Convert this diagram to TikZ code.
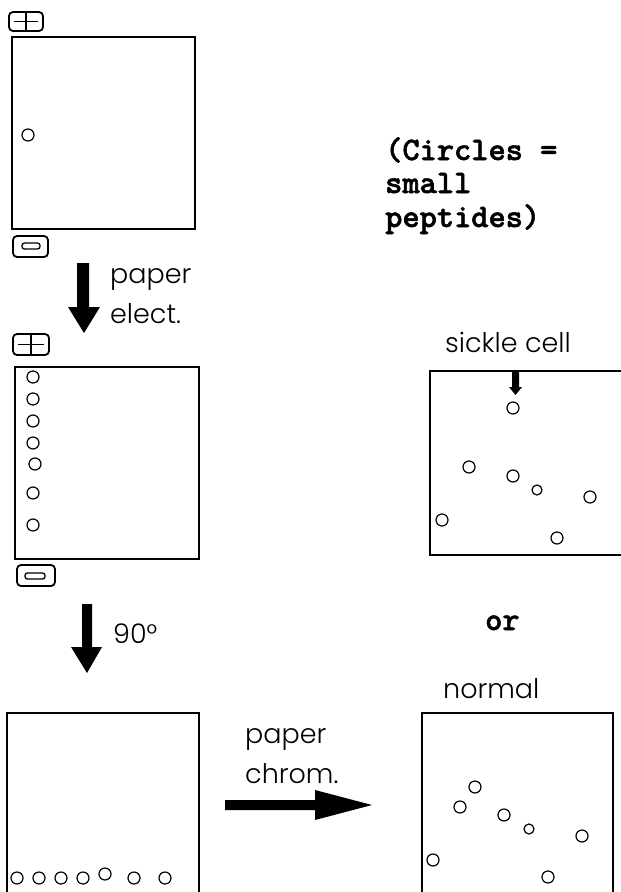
\documentclass[tikz,border=0pt]{standalone}
\usepackage{fontspec}
\newfontfamily\labelsans{Poppins Light}
\newfontfamily\notemono{lmmonolt10-bold}[Extension=.otf, FakeBold=1.6]
\tikzset{
  sheet/.style={line width=2pt},
  spot/.style={line width=1.2pt},
  pole/.style={line width=1.8pt, rounded corners=4pt},
  poleinner/.style={line width=1.3pt, rounded corners=2.5pt},
  bigarrow/.style={fill=black},
  lbl/.style={font=\labelsans\fontsize{27}{30}\selectfont, inner sep=0pt, anchor=base west},
  note/.style={font=\notemono\fontsize{32.8}{36}\selectfont, inner sep=0pt, anchor=base west},
}
\begin{document}
\begin{tikzpicture}[x=1pt,y=-1pt]
\fill[white] (0,0) rectangle (621,892);
\useasboundingbox (0,0) rectangle (621,892);

% --- first sheet: sample applied ---
\draw[sheet] (12,37) rectangle (195,229);
\draw[spot] (28,135) circle[radius=6];
\draw[pole] (9,12) rectangle (43,31);
\draw[line width=1.8pt] (14,21.5) -- (38,21.5) (26,12) -- (26,31);
\draw[pole] (13,236) rectangle (48,257);
\draw[poleinner] (22,243) rectangle (40,249);

% electrophoresis step
\fill[bigarrow] (77,263) -- (89,263) -- (89,307) -- (100,307) -- (84,333) -- (68,307) -- (77,307) -- cycle;
\node[lbl] (elA) at (110,283) {paper};
\node[lbl] (elB) at (110,323) {elect.};

% --- second sheet: separated along one edge ---
\draw[sheet] (15,367) rectangle (199,559);
\draw[pole] (13,334) rectangle (49,355);
\draw[line width=1.8pt] (18,344.5) -- (44,344.5) (31,334) -- (31,355);
\draw[pole] (17,565) rectangle (55,586);
\draw[poleinner] (25,573) rectangle (45,579);
\foreach \y in {377,399,421,443,493,525}
  \draw[spot] (33,\y) circle[radius=6];
\draw[spot] (35,464) circle[radius=6];

% rotation step
\fill[bigarrow] (82,604) -- (92,604) -- (92,647) -- (102,647) -- (87,673) -- (71,647) -- (82,647) -- cycle;
\node[lbl] (rot) at (113,643) {90°};

% --- third sheet: spots along the bottom ---
\draw[sheet] (7,896) -- (7,713) -- (199,713) -- (199,896);
\foreach \x in {17,39,61,83,134,165}
  \draw[spot] (\x,878) circle[radius=6];
\draw[spot] (105,874) circle[radius=6];

% chromatography step
\fill[bigarrow] (225,800) -- (315,800) -- (315,790) -- (372,805) -- (315,820) -- (315,810) -- (225,810) -- cycle;
\node[lbl] (chA) at (245,743) {paper};
\node[lbl] (chB) at (245,783) {chrom.};

% --- legend ---
\node[note] (legA) at (385,160) {(Circles =};
\node[note] (legB) at (385,193) {small};
\node[note] (legC) at (385,227) {peptides)};

% --- sickle cell fingerprint ---
\node[lbl] (sick) at (445,352) {sickle cell};
\draw[sheet] (625,555) -- (430,555) -- (430,371) -- (625,371);
\fill[bigarrow] (512,371) -- (519,371) -- (519,387) -- (522,387) -- (515.5,395) -- (509,387) -- (512,387) -- cycle;
\draw[spot] (513,408) circle[radius=6];
\draw[spot] (469,467) circle[radius=6];
\draw[spot] (513,476) circle[radius=6];
\draw[spot] (537,490) circle[radius=5];
\draw[spot] (590,497) circle[radius=6];
\draw[spot] (442,520) circle[radius=6];
\draw[spot] (557,538) circle[radius=6];

\node[note] (alt) at (485,630) {or};

% --- normal fingerprint ---
\node[lbl] (norm) at (443,698) {normal};
\draw[sheet] (422,896) -- (422,713) -- (613,713) -- (613,896);
\draw[spot] (475,787) circle[radius=6];
\draw[spot] (460,807) circle[radius=6];
\draw[spot] (504,815) circle[radius=6];
\draw[spot] (529,829) circle[radius=5];
\draw[spot] (582,836) circle[radius=6];
\draw[spot] (433,860) circle[radius=6];
\draw[spot] (548,877) circle[radius=6];
\end{tikzpicture}
\end{document}
